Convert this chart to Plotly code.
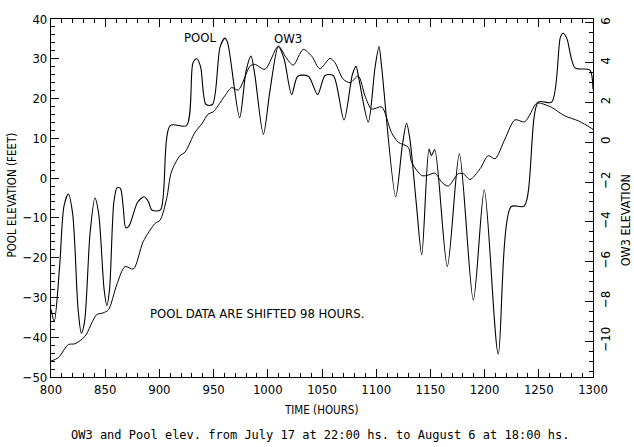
import plotly.graph_objects as go

# ---- data ----
pool_hours = [800, 803, 808, 812, 816, 820, 825, 828, 831, 836, 840.5, 844, 849, 851.5, 854,
              858, 861, 864, 866.5, 869, 872, 880, 886, 890, 893, 901, 910, 925, 931, 934.5, 938,
              943, 949, 956, 960.5, 963, 974, 980, 984.5, 988, 995.9, 1002, 1009.7, 1015,
              1022, 1027.6, 1037.4, 1046, 1052.8, 1060.4, 1070.3, 1078, 1081.4, 1084, 1092.7,
              1099, 1102.6, 1105, 1118, 1124, 1128, 1131, 1137, 1142, 1148.7, 1151, 1154,
              1165.6, 1176.7, 1189.6, 1199.7, 1212.6, 1224.4, 1236.6, 1249.5, 1261.9, 1270,
              1272.6, 1276, 1283.4, 1297, 1300]
pool_elev = [-33, -36, -22, -7, -4, -9, -33, -39, -36, -14, -5, -9, -28, -32, -28,
             -6, -2.4, -2.6, -7, -12.5, -12, -6, -4.7, -6, -8, -8, 13.2, 13.2, 29, 30, 28,
             18.5, 18.5, 33, 35.2, 34, 15.2, 27, 30.7, 26, 11, 22, 33.1, 30,
             21, 25.6, 25.6, 21, 25.8, 25.8, 14.6, 26, 28.1, 25, 14.1,
             28, 33.1, 28, -4.7, 8, 13.8, 10, -6.4, -19.3, 7.3, 5.7, 7.2,
             -22.2, 6.1, -30.7, -3, -44.2, -7.2, -7, 19.1, 19.1, 35.5,
             36.4, 35, 27.7, 27.2, 22.3]

ow3_hours = [800, 806.7, 816, 822, 831.4, 842, 848, 853, 860.6, 868.3, 876, 885, 896, 900.6,
             906.7, 911, 919, 923.6, 932.8, 939, 945, 949.7, 954, 960.5, 966.7, 972.8, 983.6,
             988, 997.4, 1009.7, 1017, 1023.5, 1032.7, 1040.5, 1048, 1057.4, 1062, 1069.6,
             1076, 1083.5, 1089.7, 1095.8, 1105, 1114, 1120.4, 1129.6, 1132.7, 1142, 1146.6,
             1154.2, 1160.4, 1166.5, 1175.7, 1180.4, 1186.5, 1195.8, 1203.4, 1209.6, 1218.8,
             1228, 1237, 1248, 1252.6, 1262, 1274, 1286.4, 1297.2, 1300]
ow3_elev = [-11.0, -10.83, -10.17, -10.13, -9.75, -8.67, -8.58, -8.42, -7.17, -6.25, -6.37,
            -5.0, -4.08, -3.92, -2.83, -1.5, -0.67, -0.5, 0.5, 0.92, 1.42, 1.53, 1.83, 2.35,
            2.75, 2.63, 3.83, 3.92, 3.67, 4.83, 4.25, 3.88, 4.67, 4.33, 3.7, 4.22, 4.0, 3.17,
            3.0, 3.33, 2.33, 1.67, 1.78, 0.5, 0.0, -0.25, -1.0, -1.67, -1.67, -1.55, -2.0,
            -2.2, -1.58, -1.58, -1.87, -1.33, -0.67, -0.83, 0.17, 1.13, 1.03, 1.97, 1.95,
            1.75, 1.33, 1.08, 0.75, 0.65]

x_ticks = [800, 850, 900, 950, 1000, 1050, 1100, 1150, 1200, 1250, 1300]
pool_ticks = [-50, -40, -30, -20, -10, 0, 10, 20, 30, 40]
ow3_ticks = [-10, -8, -6, -4, -2, 0, 2, 4, 6]

FONT = "DejaVu Sans Condensed, Liberation Sans, sans-serif"
MONO = "DejaVu Sans Mono, Liberation Mono, monospace"

L, R, T, B = 51, 41, 16, 70
W, H = 634, 447
pw, ph = W - L - R, H - T - B


def px_to_paper(px, py):
    return (px - L) / pw, 1 - (py - T) / ph


fig = go.Figure()
fig.add_trace(go.Scatter(x=pool_hours, y=pool_elev, mode="lines",
                         line=dict(color="black", width=1.1, shape="spline", smoothing=0.8),
                         name="POOL", showlegend=False))
fig.add_trace(go.Scatter(x=ow3_hours, y=ow3_elev, mode="lines", yaxis="y2",
                         line=dict(color="black", width=1.0, shape="spline", smoothing=0.8),
                         name="OW3", showlegend=False))

annotations = [
    dict(text="POOL", x=937, y=35.3, xref="x", yref="y", showarrow=False,
         xanchor="center", yanchor="middle", font=dict(size=13)),
    dict(text="OW3", x=1019, y=35.0, xref="x", yref="y", showarrow=False,
         xanchor="center", yanchor="middle", font=dict(size=13)),
    dict(text="POOL DATA ARE SHIFTED 98 HOURS.", x=990, y=-34, xref="x", yref="y",
         showarrow=False, xanchor="center", yanchor="middle", font=dict(size=13)),
]
for text, px, py, ang, size, fam in [
    ("POOL ELEVATION (FEET)", 12, 194, -90, 11.5, FONT),
    ("OW3 ELEVATION", 625, 219, -90, 12.5, FONT),
    ("TIME (HOURS)", 321, 410, 0, 11.5, FONT),
    ("OW3 and Pool elev. from July 17 at 22:00 hs. to August 6 at 18:00 hs.", 320, 435, 0, 12, MONO),
]:
    xp, yp = px_to_paper(px, py)
    annotations.append(dict(text=text, x=xp, y=yp, xref="paper", yref="paper",
                            showarrow=False, xanchor="center", yanchor="middle",
                            textangle=ang, font=dict(size=size, family=fam)))

fig.update_layout(
    width=W, height=H,
    margin=dict(l=L, r=R, t=T, b=B),
    paper_bgcolor="white", plot_bgcolor="white",
    font=dict(family=FONT, size=13, color="black"),
    xaxis=dict(range=[800, 1300], tickvals=x_ticks, ticks="inside", ticklen=8,
               tickcolor="black", tickwidth=1, showline=True, linecolor="black",
               linewidth=1.2, mirror="ticks", showgrid=False, zeroline=False,
               minor=dict(dtick=10, ticks="inside", ticklen=4, tickcolor="black"),
               tickfont=dict(size=13)),
    yaxis=dict(range=[-50, 40], tickvals=pool_ticks, ticks="inside", ticklen=8,
               tickcolor="black", showline=True, linecolor="black", linewidth=1.2,
               showgrid=False, zeroline=False,
               minor=dict(dtick=2, ticks="inside", ticklen=4, tickcolor="black"),
               tickfont=dict(size=13)),
    yaxis2=dict(range=[-11.8, 6.2], tickvals=ow3_ticks, overlaying="y", side="right",
                ticks="inside", ticklen=8, tickcolor="black", showline=True,
                linecolor="black", linewidth=1.2, showgrid=False, zeroline=False,
                tickangle=-90,
                minor=dict(dtick=0.5, ticks="inside", ticklen=4, tickcolor="black"),
                tickfont=dict(size=13)),
    annotations=annotations,
)

fig.write_html("out.html")
